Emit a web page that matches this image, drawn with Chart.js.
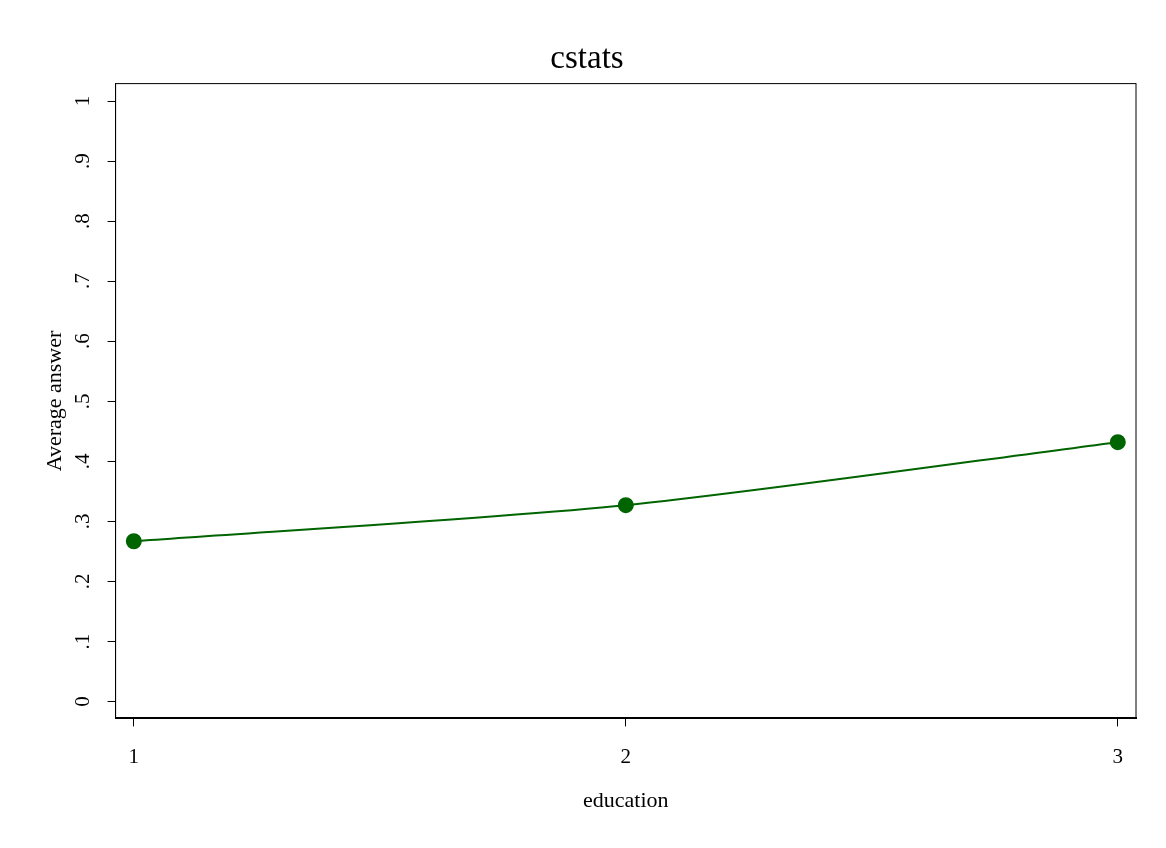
<!DOCTYPE html>
<html>
<head>
<meta charset="utf-8">
<script src="https://cdn.jsdelivr.net/npm/chart.js@4"></script>
<style>
  body { margin: 0; background: #fff; }
  #wrap { width: 1166px; height: 848px; }
</style>
</head>
<body>
<div id="wrap"><canvas id="myChart"></canvas></div>
<script>
var educationLevels = [1, 2, 3];
var averageAnswer = [0.267, 0.327, 0.432];
var yTickValues = [0, 0.1, 0.2, 0.3, 0.4, 0.5, 0.6, 0.7, 0.8, 0.9, 1];

function fmtTick(v) {
	if (Math.abs(v) < 1e-9) return '0';
	if (Math.abs(v - 1) < 1e-9) return '1';
	return '.' + Math.round(v * 10);
}

// frame around the plot area, plus y labels read bottom-to-top like Stata
var frameBox = {
	id: 'frameBox',
	afterDraw: function(chart) {
		var a = chart.chartArea;
		var ctx = chart.ctx;
		var y = chart.scales.y;
		ctx.save();
		ctx.strokeStyle = '#000';
		ctx.lineWidth = 1;
		ctx.strokeRect(a.left, a.top, a.right - a.left, a.bottom - a.top);
		ctx.fillStyle = '#000';
		ctx.font = '21px "Liberation Serif"';
		ctx.textAlign = 'center';
		ctx.textBaseline = 'middle';
		yTickValues.forEach(function(v) {
			ctx.save();
			ctx.translate(a.left - 32, y.getPixelForValue(v));
			ctx.rotate(-Math.PI / 2);
			ctx.fillText(fmtTick(v), 0, 0);
			ctx.restore();
		});
		ctx.restore();
	}
};

var ctx = document.getElementById('myChart').getContext('2d');
var chart = new Chart(ctx, {
	type: 'line',
	data: {
		datasets: [{
			data: educationLevels.map((x, i) => ({ x: x, y: averageAnswer[i] })),
			borderColor: '#006400',
			backgroundColor: '#006400',
			borderWidth: 2,
			pointRadius: 7,
			pointHoverRadius: 7,
			tension: 0.25
		}]
	},
	plugins: [frameBox],
	options: {
		responsive: true,
		maintainAspectRatio: false,
		animation: false,
		layout: { padding: { left: 38, right: 30, top: 10, bottom: 30 } },
		plugins: {
			legend: { display: false },
			tooltip: { enabled: false },
			title: {
				display: true,
				text: 'cstats',
				color: '#000',
				font: { family: 'Liberation Serif', size: 33, weight: 'normal' },
				padding: { top: 30, bottom: 4 }
			}
		},
		scales: {
			x: {
				type: 'linear',
				min: 0.963,
				max: 3.037,
				afterBuildTicks: function(axis) {
					axis.ticks = educationLevels.map(v => ({ value: v }));
				},
				ticks: {
					color: '#000',
					font: { family: 'Liberation Serif', size: 21 },
					padding: 18,
					maxRotation: 0
				},
				grid: { drawOnChartArea: false, color: '#000', tickLength: 8, tickColor: '#000' },
				border: { color: '#000', width: 2 },
				title: {
					display: true,
					text: 'education',
					color: '#000',
					font: { family: 'Liberation Serif', size: 22 },
					padding: { top: 0 }
				}
			},
			y: {
				min: -0.028,
				max: 1.029,
				afterBuildTicks: function(axis) {
					axis.ticks = yTickValues.map(v => ({ value: v }));
				},
				ticks: {
					color: 'rgba(0,0,0,0)',
					font: { family: 'Liberation Serif', size: 21 },
					minRotation: 90,
					maxRotation: 90,
					padding: 6,
					callback: function(v) { return fmtTick(v); }
				},
				grid: { drawOnChartArea: false, color: '#000', tickLength: 8, tickColor: '#000' },
				border: { color: '#000', width: 1 },
				title: {
					display: true,
					text: 'Average answer',
					color: '#000',
					font: { family: 'Liberation Serif', size: 22 },
					padding: { bottom: 2 }
				}
			}
		}
	}
});
</script>
</body>
</html>
